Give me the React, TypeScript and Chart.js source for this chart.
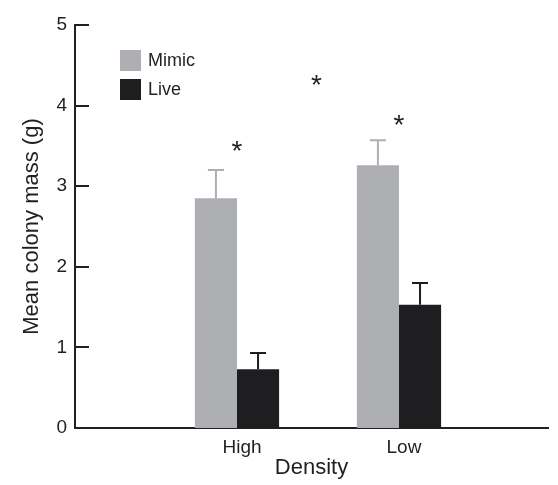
import React, { useEffect, useRef } from "react";
import { Chart, registerables } from "chart.js";

Chart.register(...registerables);

const categories = ["High", "Low"];
const categoryPositions = [1, 2];
const mimicValues = [2.85, 3.26];
const mimicErrors = [0.35, 0.31];
const liveValues = [0.73, 1.53];
const liveErrors = [0.2, 0.27];
const yTicks = [0, 1, 2, 3, 4, 5];
const asteriskX = [1.0, 1.49, 2.0];
const asteriskY = [3.5, 4.32, 3.82];

const MIMIC_COLOR = "#aeafb2";
const LIVE_COLOR = "#1e1e21";
const TEXT_COLOR = "#231f20";
const FONT = "'Liberation Sans', Arial, Helvetica, sans-serif";

const overlayPlugin = {
  id: "overlay",
  afterDatasetsDraw(chart: any) {
    const { ctx, scales } = chart;
    const x = scales.x;
    const y = scales.y;
    ctx.save();
    // error bars
    chart.data.datasets.forEach((ds: any, di: number) => {
      const meta = chart.getDatasetMeta(di);
      const errs = ds.errors as number[];
      meta.data.forEach((bar: any, i: number) => {
        const v = ds.data[i].y;
        const top = y.getPixelForValue(v + errs[i]);
        const base = y.getPixelForValue(v);
        ctx.strokeStyle = ds.backgroundColor;
        ctx.lineWidth = 2;
        ctx.beginPath();
        ctx.moveTo(bar.x, base);
        ctx.lineTo(bar.x, top);
        ctx.moveTo(bar.x - 8, top);
        ctx.lineTo(bar.x + 8, top);
        ctx.stroke();
      });
    });
    // inward y ticks
    ctx.strokeStyle = TEXT_COLOR;
    ctx.lineWidth = 2;
    yTicks.forEach((t) => {
      const py = Math.round(y.getPixelForValue(t));
      ctx.beginPath();
      ctx.moveTo(x.left, py);
      ctx.lineTo(x.left + 14, py);
      ctx.stroke();
    });
    // asterisks
    ctx.fillStyle = TEXT_COLOR;
    ctx.font = `28px ${FONT}`;
    ctx.textAlign = "center";
    ctx.textBaseline = "alphabetic";
    asteriskX.forEach((ax, i) => {
      const px = x.getPixelForValue(ax);
      const py = y.getPixelForValue(asteriskY[i]);
      const m = ctx.measureText("*");
      const off = (m.actualBoundingBoxAscent - m.actualBoundingBoxDescent) / 2;
      ctx.fillText("*", px, py + off);
    });
    // legend
    const items = chart.data.datasets.map((d: any) => ({ label: d.label, color: d.backgroundColor }));
    ctx.font = `18px ${FONT}`;
    ctx.textAlign = "left";
    ctx.textBaseline = "middle";
    items.forEach((it: any, i: number) => {
      const top = 50 + i * 29;
      ctx.fillStyle = it.color;
      ctx.fillRect(120, top, 21, 21);
      ctx.fillStyle = TEXT_COLOR;
      ctx.fillText(it.label, 148, top + 11);
    });
    ctx.restore();
  },
};

export default function App() {
  const ref = useRef<HTMLCanvasElement | null>(null);
  useEffect(() => {
    if (!ref.current) return;
    const chart = new Chart(ref.current, {
      type: "bar",
      data: {
        datasets: [
          {
            label: "Mimic",
            data: categoryPositions.map((p, i) => ({ x: p, y: mimicValues[i] })),
            errors: mimicErrors,
            backgroundColor: MIMIC_COLOR,
            categoryPercentage: 0.52,
            barPercentage: 1,
          } as any,
          {
            label: "Live",
            data: categoryPositions.map((p, i) => ({ x: p, y: liveValues[i] })),
            errors: liveErrors,
            backgroundColor: LIVE_COLOR,
            categoryPercentage: 0.52,
            barPercentage: 1,
          } as any,
        ],
      },
      options: {
        animation: false,
        responsive: true,
        maintainAspectRatio: false,
        layout: { padding: { top: 25, right: 10, left: 0, bottom: 0 } },
        plugins: { legend: { display: false }, tooltip: { enabled: false } },
        scales: {
          x: {
            type: "linear",
            offset: false,
            min: 0,
            max: 2.92,
            afterBuildTicks: (s: any) => {
              s.ticks = categoryPositions.map((v) => ({ value: v }));
            },
            afterFit: (s: any) => {
              s.height = 57;
            },
            grid: { display: false, drawTicks: false, offset: false },
            border: { display: true, color: TEXT_COLOR, width: 2 },
            ticks: {
              padding: 8,
              labelOffset: 5,
              color: TEXT_COLOR,
              font: { family: FONT, size: 19 },
              callback: (v: any) => categories[categoryPositions.indexOf(Number(v))] ?? "",
            },
            title: {
              display: true,
              text: "Density",
              color: TEXT_COLOR,
              font: { family: FONT, size: 22 },
              padding: { top: 0, bottom: 4 },
            },
          },
          y: {
            min: 0,
            max: 5,
            afterFit: (s: any) => {
              s.width = 75;
            },
            grid: { display: false, drawTicks: false },
            border: { display: true, color: TEXT_COLOR, width: 2 },
            ticks: {
              stepSize: 1,
              padding: 8,
              color: TEXT_COLOR,
              font: { family: FONT, size: 19 },
            },
            title: {
              display: true,
              text: "Mean colony mass (g)",
              color: TEXT_COLOR,
              font: { family: FONT, size: 22 },
              padding: { top: 19, bottom: 0 },
            },
          },
        },
      },
      plugins: [overlayPlugin],
    });
    return () => chart.destroy();
  }, []);
  return (
    <div style={{ position: "fixed", left: 0, top: 0, width: 558, height: 485, background: "#fff" }}>
      <canvas ref={ref} />
    </div>
  );
}
